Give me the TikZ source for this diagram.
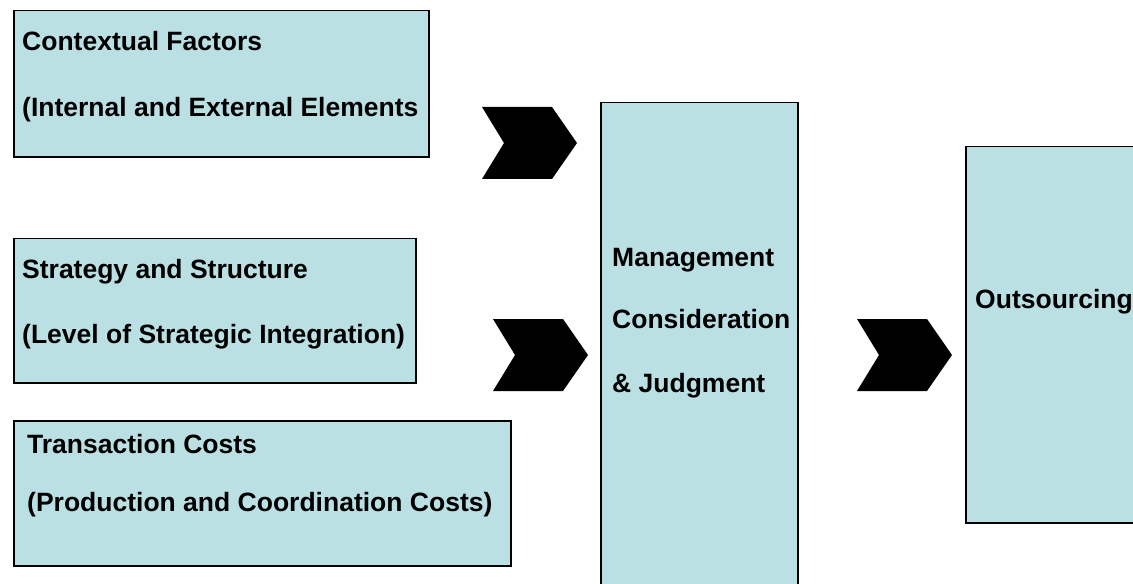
\documentclass[tikz,border=0pt]{standalone}
\usepackage{fontspec}
\setmainfont{Liberation Sans}
\usetikzlibrary{calc,positioning}

\definecolor{boxfill}{RGB}{187,224,227}

\begin{document}
\begin{tikzpicture}[x=1bp,y=-1bp,
    box/.style={draw=black,line width=1.5bp,fill=boxfill,anchor=north west,inner sep=0pt},
    txt/.style={anchor=base west,inner sep=0pt,font=\fontsize{26.6}{32}\selectfont\bfseries},
    chev/.style={fill=black}]
  \useasboundingbox (0,0) rectangle (1133,584);
  \clip (0,0) rectangle (1133,584);

  % the three factor boxes
  \node[box,minimum width=415bp,minimum height=146bp] (ctx) at (13,10) {};
  \node[box,minimum width=402bp,minimum height=144bp] (strat) at (13,238) {};
  \node[box,minimum width=497bp,minimum height=145bp] (trans) at (13,420) {};
  % judgment and result
  \node[box,minimum width=197bp,minimum height=500bp] (mgmt) at (600,102) {};
  \node[box,minimum width=200bp,minimum height=376bp] (out) at (965,146) {};

  \node[txt] (ctxa) at ($(ctx.north west)+(9,41)$) {Contextual Factors};
  \node[txt] (ctxb) at ($(ctx.north west)+(9,107)$) {(Internal and External Elements};
  \node[txt] (strata) at ($(strat.north west)+(9,41)$) {Strategy and Structure};
  \node[txt] (stratb) at ($(strat.north west)+(9,105)$) {(Level of Strategic Integration)};
  \node[txt] (transa) at ($(trans.north west)+(14,33)$) {Transaction Costs};
  \node[txt] (transb) at ($(trans.north west)+(14,91)$) {(Production and Coordination Costs)};

  \node[txt] (mgmta) at ($(mgmt.north west)+(12,165)$) {Management};
  \node[txt] (mgmtb) at ($(mgmt.north west)+(12,227)$) {Consideration};
  \node[txt] (mgmtc) at ($(mgmt.north west)+(12,290)$) {\&{} Judgment};
  \node[txt] (outa) at ($(out.north west)+(10,163)$) {Outsourcing};

  % chevrons
  \coordinate (c1) at (482,107);
  \coordinate (c2) at (493,319);
  \coordinate (c3) at (857,319);
  \foreach \c in {c1,c2,c3}
    \fill[chev] (\c) -- ++(70,0) -- ++(25,36) -- ++(-25,36) -- ++(-70,0) -- ++(22,-36) -- cycle;
\end{tikzpicture}
\end{document}
